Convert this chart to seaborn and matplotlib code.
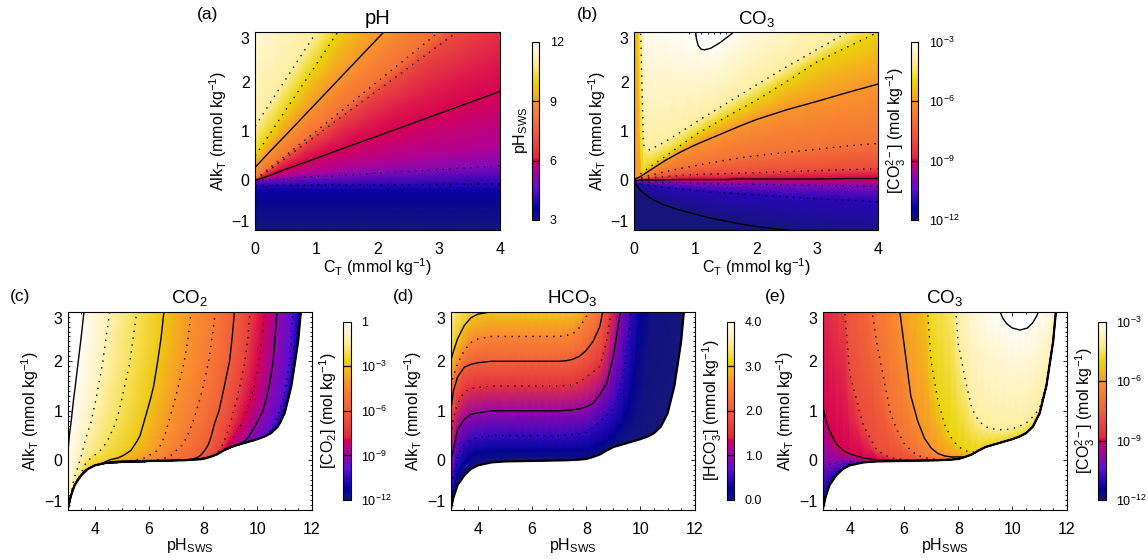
import numpy as np
import matplotlib
matplotlib.use("Agg")
import matplotlib.pyplot as plt
import seaborn as sns
from matplotlib.cm import ScalarMappable
from matplotlib.colors import LinearSegmentedColormap, Normalize

# ==========================================
# DATA (contour lines)
# ==========================================
# (a) pH: one row of Alk per pH level, at the C_T columns
ct_a = [0, 0.25, 0.5, 1, 1.5, 2, 3, 4]
ph_levels = [12, 11, 10, 9, 8, 7, 6, 5.5, 5, 4, 3.7, 3.3, 3]
ph_rows = [
    [4.2, 4.7, 5.2, 6.2, 7.2, 8.2, 10.2, 12.2],
    [1.1, 1.58, 2.05, 3.0, 3.95, 4.9, 6.8, 8.7],
    [0.5, 0.96, 1.43, 2.35, 3.28, 4.2, 6.05, 7.9],
    [0.27, 0.6, 0.92, 1.57, 2.22, 2.87, 4.17, 5.47],
    [0.02, 0.27, 0.51, 1.0, 1.5, 2.0, 3.0, 4.0],
    [0.01, 0.23, 0.46, 0.91, 1.37, 1.82, 2.73, 3.64],
    [0.0, 0.11, 0.23, 0.45, 0.68, 0.9, 1.35, 1.8],
    [0.0, 0.04, 0.09, 0.17, 0.26, 0.34, 0.51, 0.68],
    [0.0, 0.02, 0.04, 0.08, 0.11, 0.15, 0.22, 0.3],
    [-0.1, -0.1, -0.1, -0.09, -0.09, -0.09, -0.08, -0.07],
    [-0.2, -0.2, -0.2, -0.2, -0.2, -0.2, -0.2, -0.2],
    [-0.5, -0.5, -0.5, -0.5, -0.5, -0.5, -0.5, -0.5],
    [-1.05, -1.05, -1.05, -1.05, -1.05, -1.05, -1.05, -1.05],
]
ph_solid = [9, 6]
ph_dotted = [11, 10, 8, 7, 5, 4]

# (b) log10 CO3 against C_T
ct_b = [0, 0.05, 0.1, 0.15, 0.25, 0.5, 0.75, 1, 1.25, 1.5, 1.75, 2, 2.5, 3, 3.5, 4]
co3b_levels = [-3, -4, -5, -6, -7, -8, -9, -10, -11, -12, -13]
co3b_rows = [
    [12, 8, 4.5, 3.4, 3.3, 3.2, 3.0, 2.85, 2.7, 2.85, 3.2, 3.5, 4.0, 4.5, 5.0, 5.5],
    [10, 8, 3.2, 0.72, 0.62, 0.78, 0.97, 1.17, 1.36, 1.55, 1.74, 1.93, 2.3, 2.65, 3.0, 3.35],
    [6, 3.5, 0.13, 0.18, 0.27, 0.48, 0.7, 0.92, 1.1, 1.28, 1.45, 1.62, 2.0, 2.4, 2.7, 3.0],
    [0.03, 0.05, 0.08, 0.12, 0.2, 0.4, 0.57, 0.72, 0.85, 0.98, 1.11, 1.23, 1.43, 1.6, 1.78, 1.95],
    [0.02, 0.03, 0.05, 0.07, 0.1, 0.18, 0.24, 0.3, 0.36, 0.41, 0.46, 0.5, 0.57, 0.63, 0.7, 0.75],
    [0.01, 0.02, 0.03, 0.03, 0.05, 0.08, 0.1, 0.12, 0.13, 0.14, 0.15, 0.16, 0.18, 0.2, 0.22, 0.24],
    [0.0, 0.0, 0.01, 0.01, 0.01, 0.01, 0.02, 0.02, 0.02, 0.02, 0.03, 0.03, 0.03, 0.03, 0.04, 0.04],
    [-0.01, -0.01, -0.02, -0.02, -0.03, -0.04, -0.05, -0.06, -0.065, -0.07, -0.075, -0.08, -0.09, -0.1, -0.11, -0.12],
    [-0.02, -0.04, -0.07, -0.08, -0.1, -0.14, -0.17, -0.2, -0.23, -0.25, -0.27, -0.29, -0.33, -0.37, -0.4, -0.43],
    [-0.03, -0.12, -0.2, -0.25, -0.35, -0.5, -0.6, -0.68, -0.76, -0.82, -0.88, -0.93, -1.0, -1.07, -1.14, -1.2],
    [-2, -2, -2, -2, -2, -2, -2, -2, -2, -2, -2, -2, -2, -2, -2, -2],
]
co3b_solid = [-6, -9, -12]
co3b_dotted = [-4, -7, -8, -10, -11]
co3b_u_ct = [1.0, 1.02, 1.05, 1.1, 1.15, 1.25, 1.4, 1.55, 1.65]
co3b_u_alk = [3.05, 2.85, 2.72, 2.65, 2.64, 2.67, 2.78, 2.92, 3.02]

# lower edge of the valid region, shared by (c), (d), (e)
ph_cols = [3, 3.1, 3.25, 3.5, 3.75, 4, 4.5, 5, 5.5, 5.75, 6, 6.25, 6.5, 6.75, 7, 7.25, 7.5, 7.75,
           8, 8.25, 8.5, 8.75, 9, 9.25, 9.5, 9.75, 10, 10.25, 10.5, 10.75, 11, 11.25, 11.5, 11.6, 11.75]
edge_alk = [-1, -0.75, -0.5, -0.3, -0.17, -0.1, -0.04, -0.02, -0.015, -0.012, -0.01, -0.008, -0.005,
            -0.002, 0, 0.003, 0.01, 0.017, 0.03, 0.07, 0.12, 0.2, 0.27, 0.31, 0.35, 0.39, 0.43, 0.48,
            0.55, 0.68, 0.95, 1.5, 2.4, 3, 4]

# (c) log10 CO2: one row of pH per level, at the Alk columns
alk_c = [-1, -0.8, -0.6, -0.4, -0.2, -0.1, -0.05, 0, 0.02, 0.05, 0.1, 0.2, 0.3, 0.4, 0.5, 0.75, 1,
         1.25, 1.5, 2, 2.5, 3, 3.2]
edge_ph = [3, 3.08, 3.18, 3.35, 3.65, 4, 4.4, 7, 7.7, 8.1, 8.4, 8.75, 9.2, 9.85, 10.35, 10.85, 11.03,
           11.15, 11.25, 11.4, 11.52, 11.6, 11.65]
co2_levels = [0, -1, -2, -3, -4, -5, -6, -7, -8, -9, -10, -11, -12]
co2_rows = [
    [2.9, 2.91, 2.92, 2.93, 2.95, 2.96, 2.97, 2.98, 2.985, 2.99, 2.99, 3.0, 3.03, 3.045, 3.06, 3.12, 3.17, 3.22, 3.28, 3.39, 3.5, 3.6, 3.65],
    [3, 3.03, 3.15, 3.22, 3.33, 3.4, 3.42, 3.45, 3.47, 3.48, 3.5, 3.55, 3.6, 3.65, 3.7, 3.85, 3.95, 4.05, 4.13, 4.3, 4.42, 4.55, 4.6],
    [3, 3.08, 3.18, 3.35, 3.55, 3.62, 3.68, 3.76, 3.8, 3.85, 3.98, 4.2, 4.35, 4.47, 4.56, 4.76, 4.9, 5.0, 5.1, 5.3, 5.42, 5.55, 5.6],
    [12, 12, 12, 12, 12, 12, 4.3, 4.5, 4.6, 4.85, 5.05, 5.33, 5.45, 5.57, 5.67, 5.8, 5.93, 6.06, 6.17, 6.32, 6.45, 6.55, 6.6],
    [12, 12, 12, 12, 12, 12, 12, 5.4, 5.6, 5.85, 6.0, 6.3, 6.42, 6.5, 6.58, 6.71, 6.84, 6.97, 7.08, 7.3, 7.45, 7.55, 7.6],
    [12, 12, 12, 12, 12, 12, 12, 6.2, 6.4, 6.6, 6.8, 7.0, 7.2, 7.32, 7.42, 7.6, 7.75, 7.88, 8.0, 8.2, 8.33, 8.45, 8.5],
    [12, 12, 12, 12, 12, 12, 12, 7.2, 7.5, 7.75, 7.9, 8.05, 8.17, 8.24, 8.3, 8.42, 8.58, 8.68, 8.78, 8.97, 9.07, 9.15, 9.2],
    [12, 12, 12, 12, 12, 12, 12, 12, 12, 12, 12, 8.6, 8.7, 8.78, 8.85, 9.0, 9.12, 9.24, 9.35, 9.54, 9.65, 9.72, 9.76],
    [12, 12, 12, 12, 12, 12, 12, 12, 12, 12, 12, 12, 8.9, 9.03, 9.15, 9.42, 9.6, 9.75, 9.88, 10.05, 10.17, 10.25, 10.3],
    [12, 12, 12, 12, 12, 12, 12, 12, 12, 12, 12, 12, 12, 9.55, 9.7, 9.97, 10.2, 10.33, 10.43, 10.58, 10.65, 10.72, 10.75],
    [12, 12, 12, 12, 12, 12, 12, 12, 12, 12, 12, 12, 12, 12, 10.38, 10.65, 10.8, 10.95, 11.05, 11.18, 11.25, 11.3, 11.33],
    [12, 12, 12, 12, 12, 12, 12, 12, 12, 12, 12, 12, 12, 12, 12, 10.8, 11.0, 11.12, 11.22, 11.36, 11.47, 11.55, 11.6],
    [12] * 23,
]
co2_solid = [0, -3, -6, -9]
co2_dotted = [-1, -2, -4, -5, -7, -8, -10, -11]

# (d) HCO3 in mmol/kg: one row of Alk per level, at ph_cols
hco3_levels = [4, 3.5, 3, 2.5, 2, 1.5, 1, 0.5, 0.2, 0.05, 0]
hco3_rows = [
    [3.1, 3.7, 4, 4, 4, 4, 4, 4, 4, 4, 4, 4, 4, 4, 4, 4, 4.1, 4.2, 4.4, 4.7, 5, 6, 8, 9, 10, 11, 12, 12, 12, 12, 12, 12, 12, 12, 12],
    [2.6, 3, 3.3, 3.4, 3.45, 3.47, 3.5, 3.5, 3.5, 3.5, 3.5, 3.5, 3.5, 3.5, 3.5, 3.5, 3.6, 3.7, 3.85, 4.1, 4.5, 5.5, 7.5, 8.5, 9.5, 10.5, 12, 12, 12, 12, 12, 12, 12, 12, 12],
    [2, 2.2, 2.45, 2.72, 2.88, 2.95, 3, 3, 3, 3, 3, 3, 3, 3, 3, 3, 3.02, 3.12, 3.3, 3.6, 4, 5, 7, 8, 9, 10, 11, 12, 12, 12, 12, 12, 12, 12, 12],
    [1.5, 1.7, 1.95, 2.22, 2.38, 2.45, 2.5, 2.5, 2.5, 2.5, 2.5, 2.5, 2.5, 2.5, 2.5, 2.52, 2.55, 2.68, 2.9, 3.08, 3.35, 4.2, 6, 7, 8, 9, 10, 11, 12, 12, 12, 12, 12, 12, 12],
    [1, 1.4, 1.68, 1.88, 1.94, 1.97, 2, 2, 2, 2, 2, 2, 2, 2, 2, 2.01, 2.04, 2.1, 2.22, 2.4, 2.7, 3.4, 4.8, 6, 7, 8, 9, 10, 11, 12, 12, 12, 12, 12, 12],
    [0.5, 0.85, 1.15, 1.38, 1.45, 1.47, 1.5, 1.5, 1.5, 1.5, 1.5, 1.5, 1.5, 1.5, 1.5, 1.51, 1.53, 1.58, 1.68, 1.78, 1.9, 2.4, 3.3, 5, 6, 7, 8, 9, 10, 11, 12, 12, 12, 12, 12],
    [0, 0.22, 0.62, 0.83, 0.93, 0.96, 1, 1, 1, 1, 1, 1, 1, 1, 1, 1.01, 1.02, 1.04, 1.08, 1.15, 1.33, 1.55, 2.1, 2.97, 4.5, 6, 7, 8, 9, 10, 11, 12, 12, 12, 12],
    [-0.5, -0.3, 0.1, 0.33, 0.42, 0.46, 0.5, 0.5, 0.5, 0.5, 0.5, 0.5, 0.5, 0.5, 0.5, 0.51, 0.52, 0.54, 0.58, 0.66, 0.78, 0.92, 1.05, 1.42, 2.2, 3.6, 5.5, 7, 8, 9, 10, 11, 12, 12, 12],
    [-0.8, -0.62, -0.3, -0.05, 0.1, 0.15, 0.19, 0.2, 0.2, 0.2, 0.2, 0.2, 0.2, 0.2, 0.2, 0.2, 0.2, 0.21, 0.22, 0.26, 0.32, 0.4, 0.5, 0.7, 1.0, 1.6, 2.9, 4.5, 6, 7.5, 9, 10, 11, 12, 12],
    [-0.95, -0.72, -0.45, -0.25, -0.12, -0.05, 0, 0.02, 0.04, 0.04, 0.05, 0.05, 0.05, 0.05, 0.05, 0.05, 0.05, 0.05, 0.06, 0.09, 0.15, 0.22, 0.3, 0.4, 0.48, 0.7, 1.2, 2.2, 3.5, 4.8, 6, 8, 10, 11, 12],
    [-2] * 35,
]
hco3_solid = [3, 2, 1]
hco3_dotted = [2.5, 1.5, 0.5]

# (e) log10 CO3 against pH, at ph_cols
co3e_levels = [-3, -4, -5, -6, -7, -8, -9, -10, -11, -12]
co3e_rows = [
    [30] * 18 + [6, 5.2, 4.5, 3.8, 3.4, 3.15, 3, 2.78, 2.68, 2.66, 2.72, 2.85, 3, 3.2, 3.4, 3.6, 4],
    [20] * 11 + [15, 10, 8, 7, 6.3, 5.5, 4.2, 2.35, 1.65, 1.05, 0.8, 0.68, 0.64, 0.62, 0.62, 0.64, 0.69, 0.75, 0.88, 1.05, 1.55, 2.42, 3.02, 4],
    [25] * 7 + [10, 9, 8.3, 7.5, 6.5, 5.5, 3.9, 2.0, 1.2, 0.72, 0.45, 0.28, 0.2, 0.16] + [0] * 14,
    [12, 12, 12, 11, 10.5, 10, 8.5, 7, 4.6, 3.4, 2.35, 1.3, 0.8, 0.45, 0.25, 0.14, 0.09, 0.07, 0.07] + [0] * 16,
    [8, 7.8, 7.5, 6.5, 5.8, 5.2, 4.2, 2.35, 0.95, 0.6, 0.35, 0.2, 0.1, 0.06, 0.03, 0.02, 0.02] + [0] * 18,
    [5, 4.8, 4.4, 3.8, 3.4, 1.75, 0.7, 0.2, 0.05, 0.03, 0.02] + [0] * 24,
    [1.1, 0.85, 0.6, 0.33, 0.2, 0.13, 0.05, 0.01] + [0] * 27,
    [-0.05, -0.08, -0.07, -0.04, -0.02, -0.02] + [-1] * 29,
    [-0.55, -0.5, -0.4, -0.25, -0.15, -0.08] + [-1] * 29,
    [-2] * 35,
]
co3e_solid = [-6, -9]
co3e_dotted = [-4, -5, -7, -8, -10, -11]
co3e_u_ph = [9.54, 9.65, 9.8, 10, 10.28, 10.55, 10.75, 10.9, 10.98]
co3e_u_alk = [3, 2.86, 2.75, 2.67, 2.63, 2.67, 2.78, 2.92, 3.02]

# colour stops of the shared scale
cmap_stops = [(0.0, "#15157c"), (0.06, "#00009c"), (0.17, "#5a10d8"), (0.30, "#c00088"),
              (0.335, "#d80050"), (0.35, "#e22840"), (0.5, "#f0603a"), (0.66, "#fb9030"),
              (0.70, "#f5ae20"), (0.78, "#ebd50a"), (0.87, "#ffeb90"), (1.0, "#fffdf8")]

# ==========================================
# STYLE
# ==========================================
W, H = 1148, 559
sns.set_style("ticks")
plt.rcParams["font.family"] = ["Liberation Sans", "DejaVu Sans"]
plt.rcParams["mathtext.fontset"] = "custom"
plt.rcParams["mathtext.rm"] = "Liberation Sans"
plt.rcParams["mathtext.it"] = "Liberation Sans:italic"
plt.rcParams["mathtext.bf"] = "Liberation Sans:bold"
for key in ["axes.edgecolor", "text.color", "axes.labelcolor", "xtick.color", "ytick.color"]:
    plt.rcParams[key] = "black"

carbon_cmap = LinearSegmentedColormap.from_list("carbon", cmap_stops, N=512)
DOTS = (0, (1, 4))
ALK_LABEL = r"Alk$_{\mathrm{T}}$ (mmol kg$^{-1}$)"
CT_LABEL = r"C$_{\mathrm{T}}$ (mmol kg$^{-1}$)"
PH_LABEL = r"pH$_{\mathrm{SWS}}$"

fig = plt.figure(figsize=(W / 100, H / 100), dpi=100)


def px_axes(x0, y0, x1, y1):
    return fig.add_axes([x0 / W, 1 - y1 / H, (x1 - x0) / W, (y1 - y0) / H])


def contour(ax, x, y, dotted=False, lw=1.0):
    sns.lineplot(x=x, y=y, ax=ax, sort=False, estimator=None, errorbar=None, color="black",
                 linewidth=lw, linestyle=DOTS if dotted else "-")


def draw_panel(ax, xs, ys, levels, vmin, vmax, solid, dotted):
    xs, ys = np.asarray(xs, dtype=float), np.asarray(ys, dtype=float)
    values = np.repeat(np.asarray(levels, dtype=float)[:, None], xs.shape[1], axis=1)
    ax.pcolormesh(xs, ys, values, shading="gouraud", cmap=carbon_cmap, vmin=vmin, vmax=vmax)
    for i, level in enumerate(levels):
        if level in dotted:
            contour(ax, xs[i], ys[i], dotted=True)
    for i, level in enumerate(levels):
        if level in solid:
            contour(ax, xs[i], ys[i])


def finish_axes(ax, xlim, xticks, xminor, xlabel, title, panel, panel_x, panel_y, title_size=13.5):
    ax.set_xlim(xlim)
    ax.set_ylim(-1, 3)
    ax.set_xticks(xticks)
    ax.set_xticks(xminor, minor=True)
    ax.set_yticks([-1, 0, 1, 2, 3])
    ax.set_yticks(np.arange(-1, 3.01, 0.1), minor=True)
    ax.set_yticklabels(["\u22121", "0", "1", "2", "3"])
    ax.tick_params(which="major", direction="in", top=True, right=True, length=3, width=0.6,
                   labelsize=11.5, pad=4)
    ax.tick_params(axis="x", which="major", pad=9)
    ax.tick_params(which="minor", direction="in", top=True, right=True, length=1.3, width=0.6)
    labels = ax.get_yticklabels()
    labels[0].set_verticalalignment("bottom")
    labels[-1].set_verticalalignment("top")
    ax.set_xlabel(xlabel, fontsize=11.5, labelpad=-1)
    ax.set_ylabel(ALK_LABEL, fontsize=11.5, labelpad=2)
    ax.set_title(title, fontsize=title_size, pad=6)
    for spine in ax.spines.values():
        spine.set_linewidth(0.8)
    ax.set_zorder(2)
    fig.text(panel_x / W, 1 - panel_y / H, panel, fontsize=12.5, va="center", ha="left")


def add_cbar(x0, y0, vmin, vmax, major, major_labels, minor, lines, label, label_gap):
    cax = px_axes(x0, y0, x0 + 7.7, y0 + 178.3)
    sm = ScalarMappable(norm=Normalize(vmin, vmax), cmap=carbon_cmap)
    cbar = fig.colorbar(sm, cax=cax)
    cbar.set_ticks(major, labels=major_labels)
    cax.set_yticks(minor, minor=True)
    cax.tick_params(which="major", direction="in", length=2.5, width=0.7, labelsize=9, pad=7.5)
    cax.tick_params(which="minor", direction="in", length=2, width=0.6)
    cbar.outline.set_linewidth(0.8)
    for level in lines:
        cax.axhline(level, color="black", lw=0.9)
    fig.text((x0 - label_gap) / W, 1 - (y0 + 89) / H, label, fontsize=11.5, rotation=90,
             va="center", ha="center")


# ==========================================
# PANEL (a)
# ==========================================
ax_a = px_axes(255.3, 32, 500, 230)
draw_panel(ax_a, np.tile(ct_a, (len(ph_levels), 1)), ph_rows, ph_levels, 3, 12, ph_solid, ph_dotted)
finish_axes(ax_a, (0, 4), [0, 1, 2, 3, 4], np.arange(0, 4.01, 0.1), CT_LABEL, "pH", "(a)", 197, 15, title_size=14.5)
add_cbar(531.7, 41.7, 3, 12, [3, 6, 9, 12], ["3", "6", "9", "12"], [4, 5, 7, 8, 10, 11], [6, 9], PH_LABEL, 11)

# ==========================================
# PANEL (b)
# ==========================================
log_major = [-12, -9, -6, -3]
log_labels = ["$10^{-12}$", "$10^{-9}$", "$10^{-6}$", "$10^{-3}$"]
log_minor = [-11, -10, -8, -7, -5, -4]
CO3_LABEL = r"[CO$_3^{2-}$] (mol kg$^{-1}$)"

ax_b = px_axes(634.3, 32, 878.3, 230)
draw_panel(ax_b, np.tile(ct_b, (len(co3b_levels), 1)), co3b_rows, co3b_levels, -12, -3, co3b_solid, co3b_dotted)
# the -5 line only shows from the third column on, it hugs the axis before that
contour(ax_b, ct_b[2:], co3b_rows[2][2:], dotted=True)
contour(ax_b, co3b_u_ct, co3b_u_alk)
finish_axes(ax_b, (0, 4), [0, 1, 2, 3, 4], np.arange(0, 4.01, 0.1), CT_LABEL, "CO$_3$", "(b)", 577, 15)
add_cbar(910.7, 41.7, -12, -3, log_major, log_labels, log_minor, [-9, -6], CO3_LABEL, 14)

# ==========================================
# PANEL (c)
# ==========================================
ph_xticks = [4, 6, 8, 10, 12]
ph_minor = np.arange(3, 12.01, 0.5)

ax_c = px_axes(67.7, 311.7, 311.7, 510)
co2_x = np.minimum(np.asarray(co2_rows, dtype=float), edge_ph)
draw_panel(ax_c, co2_x, np.tile(alk_c, (len(co2_levels), 1)), co2_levels, -12, 0, co2_solid, co2_dotted)
contour(ax_c, ph_cols, edge_alk, lw=1.6)
finish_axes(ax_c, (3, 12), ph_xticks, ph_minor, PH_LABEL, "CO$_2$", "(c)", 10, 296)
add_cbar(343.3, 321.7, -12, 0, [-12, -9, -6, -3, 0],
         ["$10^{-12}$", "$10^{-9}$", "$10^{-6}$", "$10^{-3}$", "1"],
         [-11, -10, -8, -7, -5, -4, -2, -1], [-9, -6, -3], r"[CO$_2$] (mol kg$^{-1}$)", 15)

# ==========================================
# PANEL (d)
# ==========================================
ax_d = px_axes(450.7, 311.7, 694.7, 510)
hco3_y = np.maximum(np.asarray(hco3_rows, dtype=float), edge_alk)
draw_panel(ax_d, np.tile(ph_cols, (len(hco3_levels), 1)), hco3_y, hco3_levels, 0, 4, hco3_solid, hco3_dotted)
contour(ax_d, ph_cols, edge_alk, lw=1.6)
finish_axes(ax_d, (3, 12), ph_xticks, ph_minor, PH_LABEL, "HCO$_3$", "(d)", 393, 296)
add_cbar(726.7, 321.7, 0, 4, [0, 1, 2, 3, 4], ["0.0", "1.0", "2.0", "3.0", "4.0"],
         [0.5, 1.5, 2.5, 3.5], [1, 2, 3], r"[HCO$_3^{-}$] (mmol kg$^{-1}$)", 14)

# ==========================================
# PANEL (e)
# ==========================================
ax_e = px_axes(822.7, 311.7, 1066.7, 510)
co3e_y = np.maximum(np.asarray(co3e_rows, dtype=float), edge_alk)
draw_panel(ax_e, np.tile(ph_cols, (len(co3e_levels), 1)), co3e_y, co3e_levels, -12, -3, co3e_solid, co3e_dotted)
contour(ax_e, co3e_u_ph, co3e_u_alk)
contour(ax_e, ph_cols, edge_alk, lw=1.6)
finish_axes(ax_e, (3, 12), ph_xticks, ph_minor, PH_LABEL, "CO$_3$", "(e)", 765, 296)
add_cbar(1098.3, 321.7, -12, -3, log_major, log_labels, log_minor, [-9, -6], CO3_LABEL, 13)

fig.savefig("out.png", dpi=100)
